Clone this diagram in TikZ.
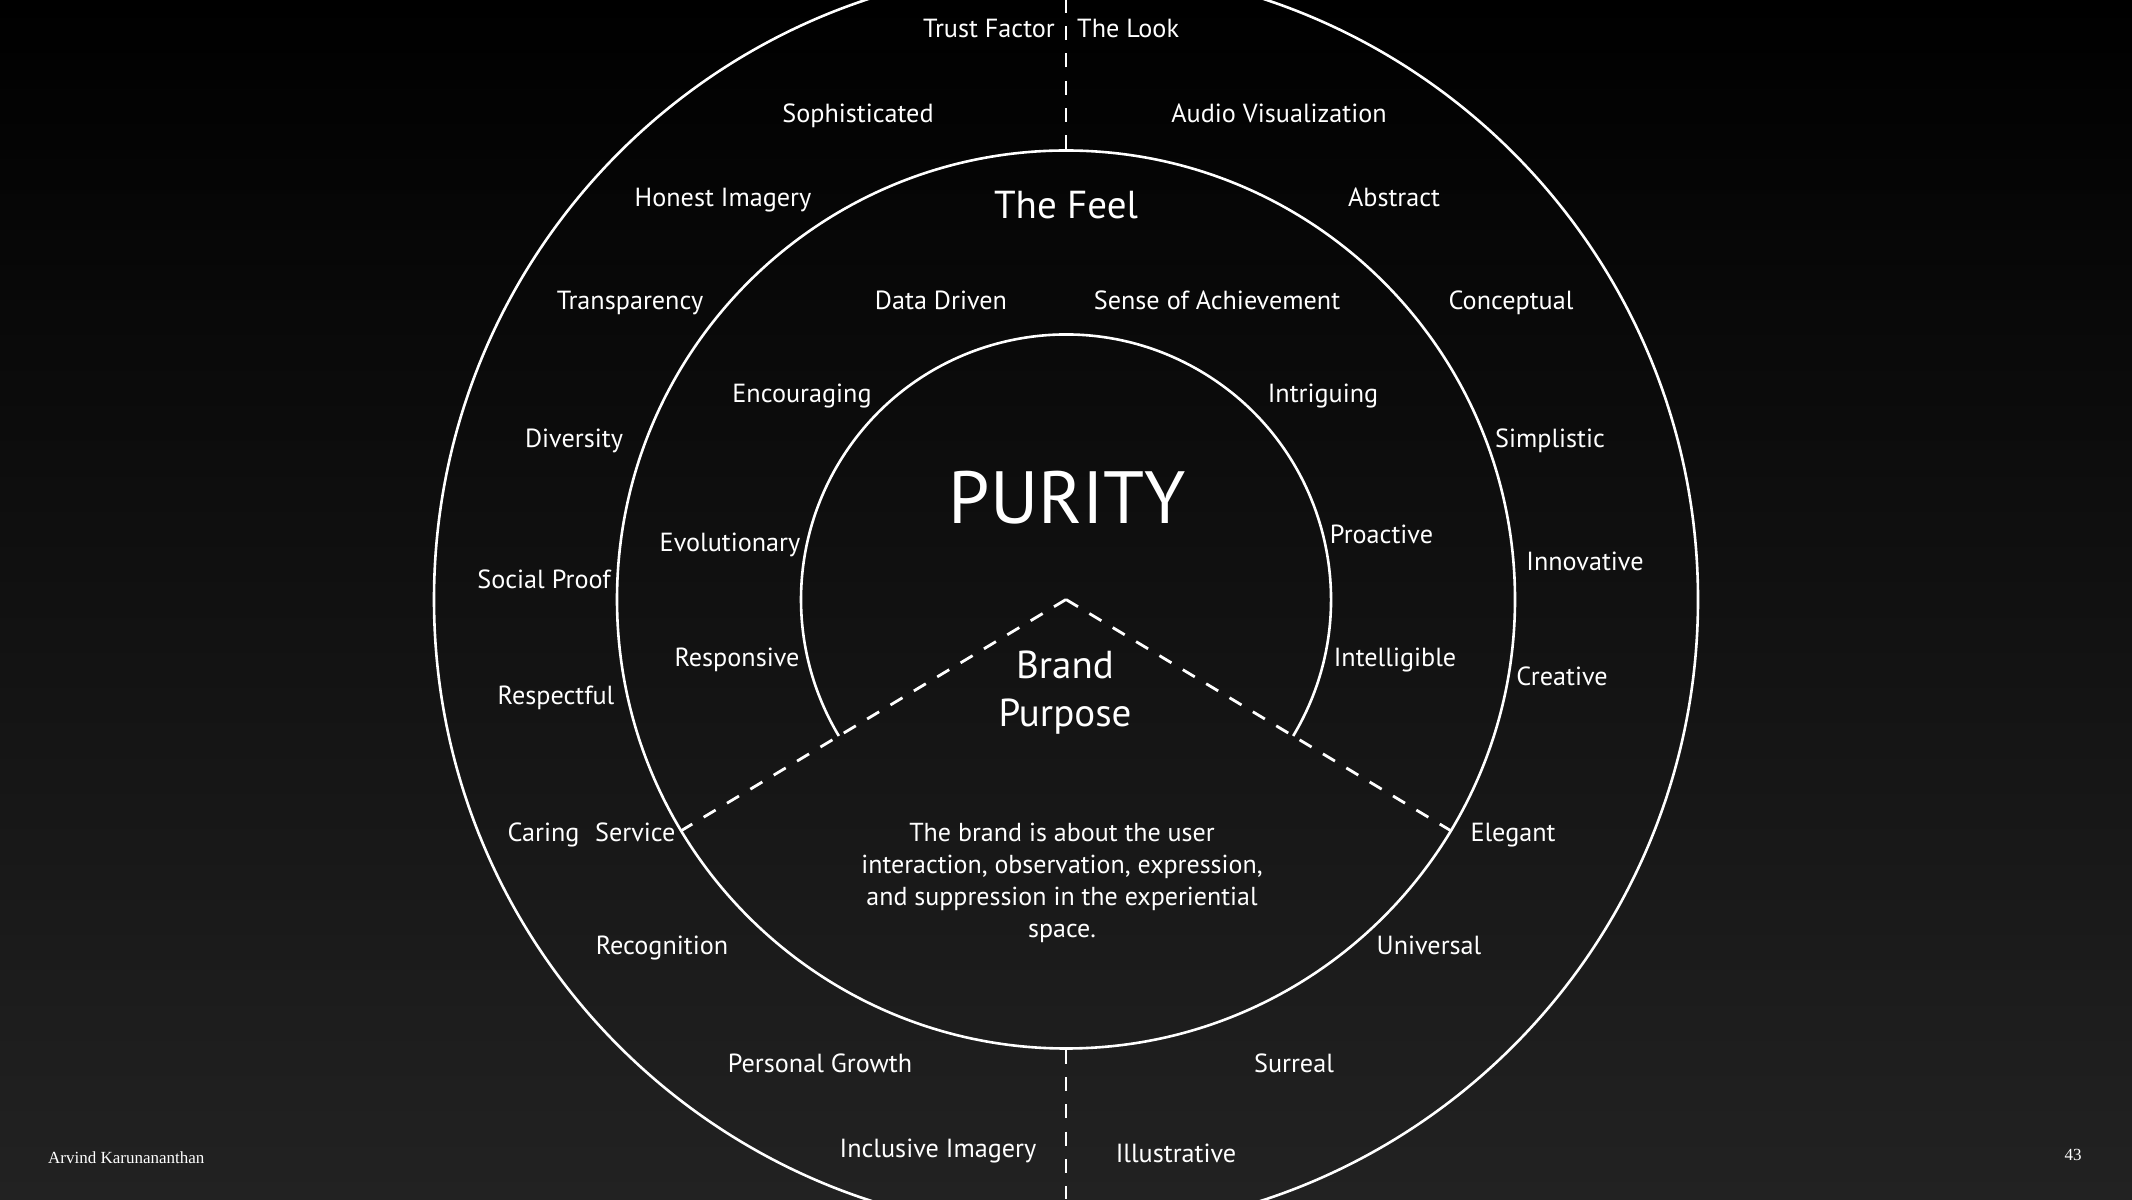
\documentclass[tikz,border=0pt]{standalone}
\usepackage{fontspec}
\setmainfont{PT Sans}
\newfontfamily\footfont{Liberation Serif}
\definecolor{floor}{RGB}{34,34,34}

\begin{document}
\begin{tikzpicture}[x=1pt, y=1pt,
		ring/.style={draw=white, line width=2.6pt, circle, inner sep=0pt},
		dashline/.style={draw=white, line width=2.8pt, dash pattern=on 14pt off 13.25pt},
		word/.style={text=white, inner sep=0pt, font=\fontsize{26.2}{30}\selectfont, text height=18.3pt, text depth=0pt},
		title/.style={text=white, inner sep=0pt, font=\fontsize{39}{48}\selectfont},
		note/.style={text=white, inner sep=0pt, font=\fontsize{26}{32}\selectfont, align=center}]
		\clip (0,0) rectangle (2132,1199);
		\shade[top color=black, bottom color=floor] (0,0) rectangle (2132,1199);
		\coordinate (core) at (1066,599.5);
		\coordinate (top) at (1066,1199);
		\coordinate (bottom) at (1066,0);
		\node[ring, minimum size=898pt] (feel) at (core) {};
		\node[ring, minimum size=1264pt] (look) at (core) {};
		\draw[white, line width=2.6pt] ([shift={(-31:265)}]core) arc[start angle=-31, end angle=211, radius=265];
		\draw[dashline] (core) -- (feel.211);
		\draw[dashline] (core) -- (feel.-31);
		\draw[dashline] (feel.north) -- (top);
		\draw[dashline] (feel.south) -- (bottom);

		\node[text=white, inner sep=0pt, font=\fontsize{74}{84}\selectfont, text height=52pt, text depth=0pt] (purity) at (1067,701.4) {PURITY};
		\node[title, align=center] (purpose) at (1065,506) {Brand\\Purpose};
		\node[note] (about) at (1062,316) {The brand is about the user\\interaction, observation, expression,\\and suppression in the experiential\\space.};
		\node[title, text height=27.3pt, text depth=0pt] (thefeel) at (1066,994) {The Feel};

		\node[word] (data) at (941,898.5) {Data Driven};
		\node[word] (achieve) at (1217,898.5) {Sense of Achievement};
		\node[word] (encourage) at (802,806) {Encouraging};
		\node[word] (intrigue) at (1323,806) {Intriguing};
		\node[word] (evolve) at (730,656.5) {Evolutionary};
		\node[word] (proactive) at (1381.5,665) {Proactive};
		\node[word] (respond) at (737,542) {Responsive};
		\node[word] (intelligible) at (1395,542) {Intelligible};

		\node[word, anchor=east] (trust) at (1055,1170.5) {Trust Factor};
		\node[word, anchor=west] (thelook) at (1077,1170.5) {The Look};
		\node[word] (sophisticated) at (858,1086) {Sophisticated};
		\node[word] (honest) at (723,1002) {Honest Imagery};
		\node[word] (transparency) at (630,898.5) {Transparency};
		\node[word] (diversity) at (574,761) {Diversity};
		\node[word] (social) at (544,620) {Social Proof};
		\node[word] (respectful) at (556,504) {Respectful};
		\node[word] (caring) at (591.5,367) {Caring\hspace{0.6em}Service};
		\node[word] (recognition) at (662,254) {Recognition};
		\node[word] (growth) at (820,136) {Personal Growth};
		\node[word] (inclusive) at (938,50.5) {Inclusive Imagery};

		\node[word] (audio) at (1279,1086) {Audio Visualization};
		\node[word] (abstract) at (1394,1002) {Abstract};
		\node[word] (conceptual) at (1511,898.5) {Conceptual};
		\node[word] (simplistic) at (1550,761) {Simplistic};
		\node[word] (innovative) at (1585,637.5) {Innovative};
		\node[word] (creative) at (1562,523) {Creative};
		\node[word] (elegant) at (1513,367) {Elegant};
		\node[word] (universal) at (1429,254) {Universal};
		\node[word] (surreal) at (1294,136) {Surreal};
		\node[word] (illustrative) at (1176,45.5) {Illustrative};

		\node[text=white, inner sep=0pt, anchor=base west, font=\footfont\fontsize{17}{20}\selectfont] (author) at (48,36) {Arvind Karunananthan};
		\node[text=white, inner sep=0pt, anchor=base, font=\footfont\fontsize{17}{20}\selectfont] (page) at (2073,39) {43};
\end{tikzpicture}
\end{document}
